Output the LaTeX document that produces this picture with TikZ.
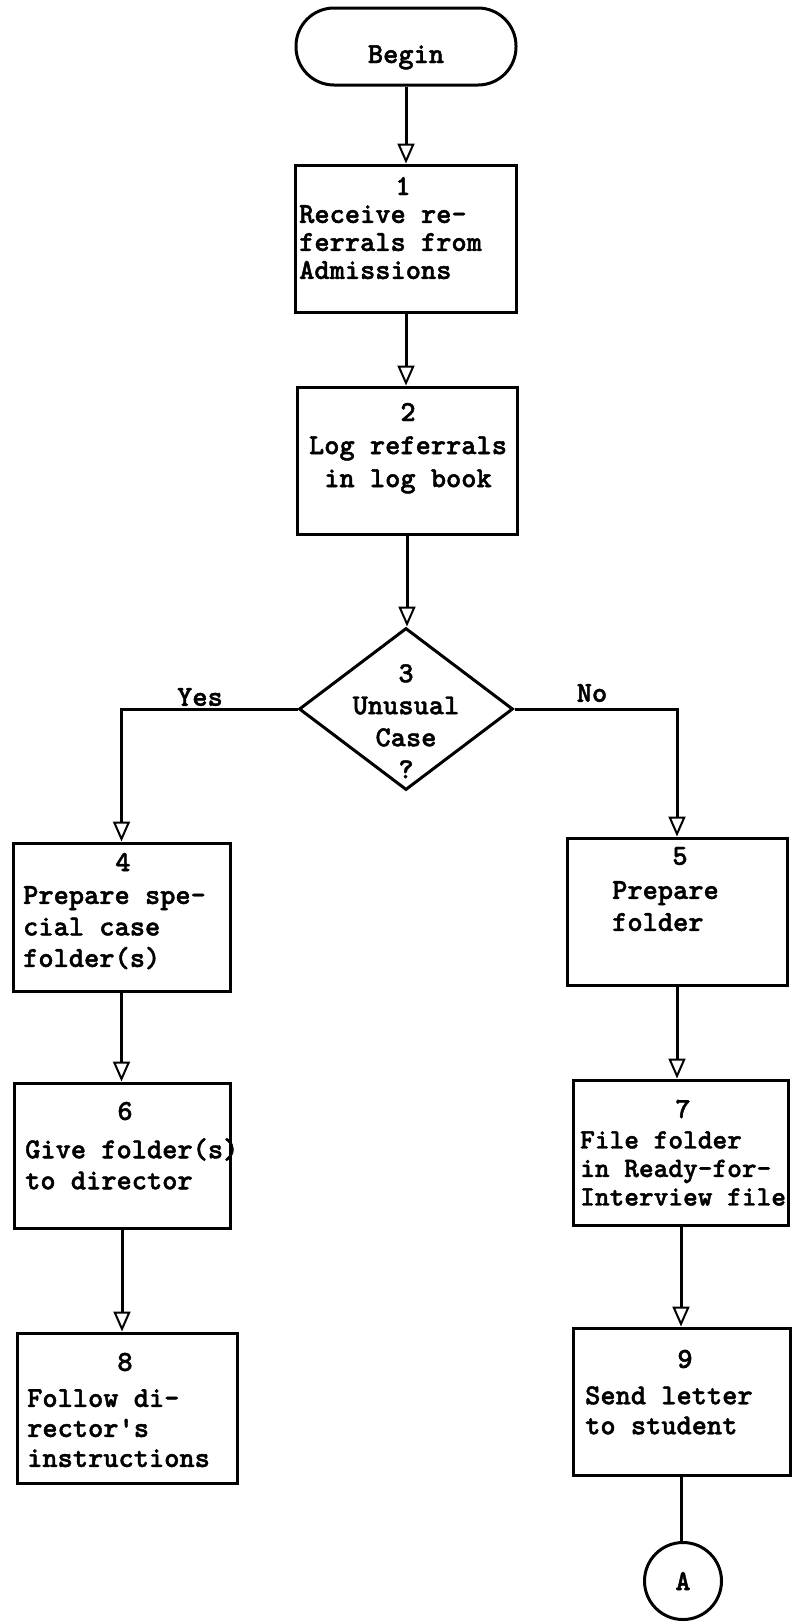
\documentclass[tikz,border=0pt]{standalone}
\usepackage{fontspec}
\usetikzlibrary{arrows.meta,shapes.geometric}
% heavy typewriter face used throughout: size, line spacing
\newfontfamily\twface{lmmonolt10-bold}[Extension=.otf, FakeBold=1.5]
\newcommand{\fsz}[2]{\fontsize{#1}{#2}\selectfont\twface}
\begin{document}
\begin{tikzpicture}[x=1pt,y=-1pt,
  every node/.style={font=\fsz{29}{30}},
  term/.style={draw, line width=3pt, rectangle, rounded corners=38pt,
    minimum width=220pt, minimum height=77pt, inner sep=0pt,
    text height=50pt, text depth=17pt},
  proc/.style={draw, line width=3pt, rectangle, inner sep=0pt},
  decision/.style={draw, line width=3pt, diamond, inner sep=0pt,
    minimum width=214pt, minimum height=162pt},
  conn/.style={draw, line width=3pt, circle, inner sep=0pt, minimum size=77pt},
  num/.style={inner sep=0pt, anchor=center},
  body/.style={inner sep=0pt, anchor=north west, align=left},
  flow/.style={line width=3pt,
    -{Triangle[open, length=20pt, width=17pt, line width=2pt]}},
  link/.style={line width=3pt}]
\useasboundingbox (0,0) rectangle (792,1623);

% ---- main column ----
\node[term] (begin) at (406,46.5) {Begin};
\node[proc, minimum width=221pt, minimum height=147pt] (b1) at (406,238.5) {};
\node[num] (n1) at (403,186) {1};
\node[body, font=\fsz{29}{28}] (t1) at (299,205) {Receive re-\\ferrals from\\Admissions};

\node[proc, minimum width=220pt, minimum height=147pt] (b2) at (407,460.5) {};
\node[num] (n2) at (408,412) {2};
\node[inner sep=0pt, anchor=north, align=center, font=\fsz{29}{33}] (t2) at (408,436) {Log referrals\\in log book};

\node[decision] (d3) at (406,709) {};
\node[inner sep=0pt, anchor=north, align=center, font=\fsz{29}{32}] (t3) at (406,664) {3\\Unusual\\Case\\?};

% ---- "Yes" branch ----
\node[proc, minimum width=217pt, minimum height=148pt] (b4) at (121.5,917) {};
\node[num] (n4) at (123,862) {4};
\node[body, font=\fsz{29}{31.5}] (t4) at (23,886) {Prepare spe-\\cial case\\folder(s)};

\node[proc, minimum width=216pt, minimum height=145pt] (b6) at (122,1155.5) {};
\node[num] (n6) at (125,1111) {6};
\node[body, font=\fsz{29}{31}] (t6) at (25,1138) {Give folder(s)\\to director};

\node[proc, minimum width=220pt, minimum height=150pt] (b8) at (127,1408) {};
\node[num] (n8) at (125,1362) {8};
\node[body] (t8) at (27,1389) {Follow di-\\rector's\\instructions};

% ---- "No" branch ----
\node[proc, minimum width=220pt, minimum height=147pt] (b5) at (677,911.5) {};
\node[num] (n5) at (680,856) {5};
\node[body, font=\fsz{29}{32}] (t5) at (612,881) {Prepare\\folder};

\node[proc, minimum width=215pt, minimum height=145pt] (b7) at (681,1152.5) {};
\node[num] (n7) at (683,1109) {7};
\node[body, font=\fsz{28}{28.5}] (t7) at (580,1131) {File folder\\in Ready-for-\\Interview file};

\node[proc, minimum width=217pt, minimum height=147pt] (b9) at (681.5,1401.5) {};
\node[num] (n9) at (685,1359) {9};
\node[body] (t9) at (585,1386) {Send letter\\to student};

\node[conn] (A) at (683,1581) {A};

% ---- branch labels ----
\node[inner sep=0pt] (yes) at (200,697) {Yes};
\node[inner sep=0pt] (no) at (592,693) {No};

% ---- connectors ----
\draw[flow] (begin.south) -- (begin.south |- b1.north);
\draw[flow] (b1.south) -- (b1.south |- b2.north);
\draw[flow] (b2.south) -- (b2.south |- d3.north);
\draw[flow] (d3.west) -| (b4.north);
\draw[flow] (d3.east) -| (b5.north);
\draw[flow] (b4.south) -- (b4.south |- b6.north);
\draw[flow] (b6.south) -- (b6.south |- b8.north);
\draw[flow] (b5.south) -- (b5.south |- b7.north);
\draw[flow] (b7.south) -- (b7.south |- b9.north);
\draw[link] (b9.south) -- (b9.south |- A.north);
\end{tikzpicture}
\end{document}
